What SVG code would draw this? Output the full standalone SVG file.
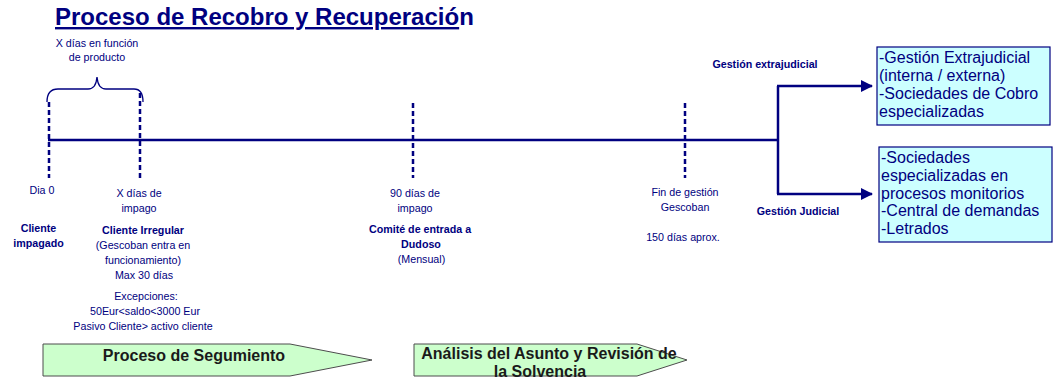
<svg xmlns="http://www.w3.org/2000/svg" width="1053" height="383" viewBox="0 0 1053 383">
<style>
text{font-family:"Liberation Sans",Arial,sans-serif;fill:#000080}
.lbl{font-size:10.7px;text-anchor:middle}
.b{font-weight:bold}
.dash{stroke:#000080;stroke-width:2.5;stroke-dasharray:5,3;fill:none}
.ln{stroke:#000080;stroke-width:2.5;fill:none}
.box{fill:#CCFFFF;stroke:#000080;stroke-width:1.2}
.boxt{font-size:16px}
.pent{fill:#CCFFCC;stroke:#4d4d4d;stroke-width:1}
.pt{font-size:16px;font-weight:bold;fill:#1a1a1a;text-anchor:middle}
</style>
<defs>
<marker id="ah" markerWidth="12" markerHeight="12" refX="11" refY="6" orient="auto" markerUnits="userSpaceOnUse">
<path d="M0,0 L12,6 L0,12 Z" fill="#000080"/>
</marker>
</defs>
<rect width="1053" height="383" fill="#ffffff"/>
<g id="title">
<text x="55" y="25" font-size="24" font-weight="bold"><tspan text-decoration="underline">Proceso de Recobro y Recuperació</tspan>n</text>
</g>
<g id="connectors">
<line class="ln" x1="48" y1="140" x2="778" y2="140"/>
<polyline class="ln" points="778,86 778,194"/>
<line class="ln" x1="777" y1="86" x2="872" y2="86" marker-end="url(#ah)"/>
<line class="ln" x1="777" y1="194" x2="872" y2="194" marker-end="url(#ah)"/>
<line class="dash" x1="49" y1="102" x2="49" y2="178"/>
<line class="dash" x1="140" y1="93" x2="140" y2="178"/>
<line class="dash" x1="413" y1="103" x2="413" y2="178"/>
<line class="dash" x1="685" y1="103" x2="685" y2="178"/>
<path d="M47,102 Q47,89 58,89 L88,89 Q96,89 97,77 Q98,89 106,89 L134,89 Q143,89 143,102" fill="none" stroke="#000080" stroke-width="1.3"/>
</g>
<g id="brace-label">
<text class="lbl" x="97" y="47">X días en función</text>
<text class="lbl" x="97" y="61">de producto</text>
</g>
<g id="dia0">
<text class="lbl" x="42" y="194">Dia 0</text>
<text class="lbl b" x="38.5" y="231.5">Cliente</text>
<text class="lbl b" x="38.5" y="247">impagado</text>
</g>
<g id="irregular">
<text class="lbl" x="139" y="197">X días de</text>
<text class="lbl" x="139" y="212">impago</text>
<text class="lbl b" x="143" y="234">Cliente Irregular</text>
<text class="lbl" x="143" y="249">(Gescoban entra en</text>
<text class="lbl" x="143" y="264">funcionamiento)</text>
<text class="lbl" x="144" y="279">Max 30 días</text>
<text class="lbl" x="146" y="300">Excepciones:</text>
<text class="lbl" x="145" y="315">50Eur&lt;saldo&lt;3000 Eur</text>
<text class="lbl" x="143" y="330">Pasivo Cliente&gt; activo cliente</text>
</g>
<g id="dudoso">
<text class="lbl" x="415" y="197">90 días de</text>
<text class="lbl" x="415" y="212">impago</text>
<text class="lbl b" x="420" y="233">Comité de entrada a</text>
<text class="lbl b" x="421" y="248">Dudoso</text>
<text class="lbl" x="421.5" y="263">(Mensual)</text>
</g>
<g id="fin">
<text class="lbl" x="685" y="196">Fin de gestión</text>
<text class="lbl" x="685" y="211">Gescoban</text>
<text class="lbl" x="683" y="241">150 días aprox.</text>
</g>
<g id="branch-labels">
<text class="lbl b" x="765" y="68">Gestión extrajudicial</text>
<text class="lbl b" x="798" y="215">Gestión Judicial</text>
</g>
<g id="box-extrajudicial">
<rect class="box" x="877" y="47" width="173" height="78"/>
<text class="boxt" x="879" y="63">-Gestión Extrajudicial</text>
<text class="boxt" x="879" y="81">(interna / externa)</text>
<text class="boxt" x="879" y="99">-Sociedades de Cobro</text>
<text class="boxt" x="879" y="117">especializadas</text>
</g>
<g id="box-judicial">
<rect class="box" x="879" y="147" width="173" height="95"/>
<text class="boxt" x="881" y="163">-Sociedades</text>
<text class="boxt" x="881" y="181">especializadas en</text>
<text class="boxt" x="881" y="199">procesos monitorios</text>
<text class="boxt" x="881" y="216">-Central de demandas</text>
<text class="boxt" x="881" y="234">-Letrados</text>
</g>
<g id="seguimiento">
<polygon class="pent" points="43,344 290,344 372,360 290,376 43,376"/>
<text class="pt" x="194" y="361">Proceso de Segumiento</text>
</g>
<g id="analisis">
<polygon class="pent" points="414,344 637,344 687,360 637,376 414,376"/>
<text class="pt" x="549" y="359">Análisis del Asunto y Revisión de</text>
<text class="pt" x="540" y="377">la Solvencia</text>
</g>
</svg>
